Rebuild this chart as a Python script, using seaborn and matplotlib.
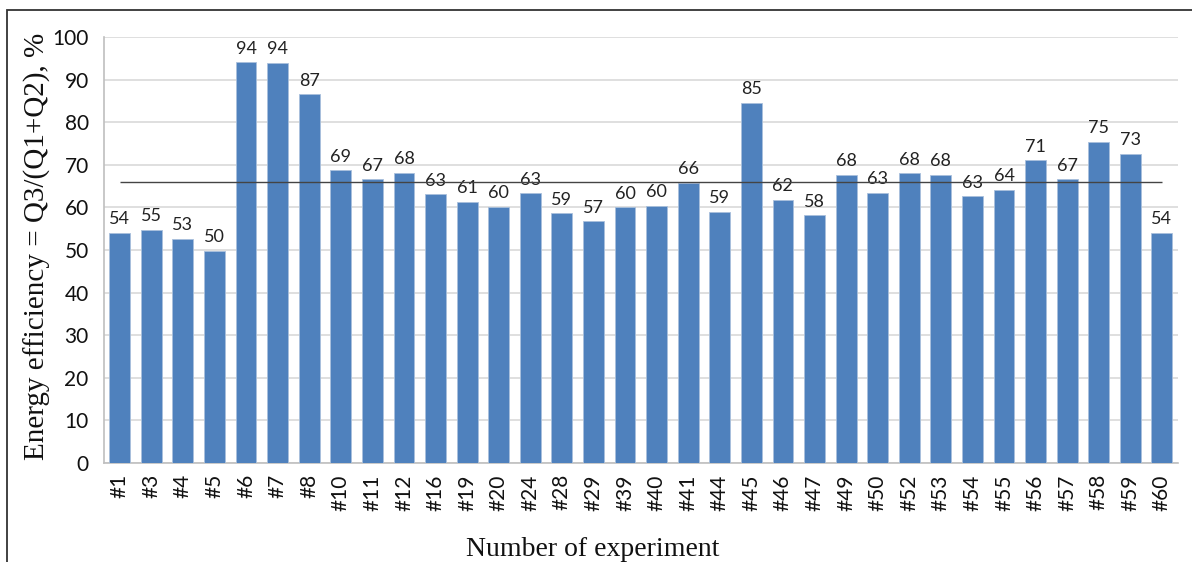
import matplotlib
matplotlib.use('Agg')
import matplotlib.pyplot as plt
import seaborn as sns
import pandas as pd
from matplotlib.patches import Rectangle

# datos
experiments = ['#1', '#3', '#4', '#5', '#6', '#7', '#8', '#10', '#11', '#12', '#16', '#19',
               '#20', '#24', '#28', '#29', '#39', '#40', '#41', '#44', '#45', '#46', '#47',
               '#49', '#50', '#52', '#53', '#54', '#55', '#56', '#57', '#58', '#59', '#60']
efficiency = [54.1, 54.8, 52.7, 49.8, 94.1, 94.0, 86.6, 68.7, 66.6, 68.2, 63.1, 61.3,
              60.2, 63.3, 58.6, 56.8, 60.0, 60.4, 65.8, 59.0, 84.6, 61.8, 58.2,
              67.7, 63.4, 68.0, 67.7, 62.6, 64.2, 71.1, 66.6, 75.4, 72.6, 54.1]
avg_level = 65.9

df = pd.DataFrame({'experiment': experiments, 'efficiency': efficiency})

sns.set_style("white")
plt.rcParams['font.family'] = ['Lato', 'DejaVu Sans']

fig = plt.figure(figsize=(11.92, 5.62), dpi=100)
ax = fig.add_axes([0.0872, 0.176, 0.9008, 0.758])

sns.barplot(data=df, x='experiment', y='efficiency', color='#4F81BD', saturation=1,
            width=0.66, edgecolor='#a9c0dc', linewidth=0.6, ax=ax, zorder=3)

ax.bar_label(ax.containers[0], fmt='%.0f', padding=4, fontsize=13, color='#222222')

# linea del promedio
ax.hlines(avg_level, 0, len(experiments) - 1, color='#444444', linewidth=1.0, zorder=4)

ax.set_ylim(0, 100)
ax.set_xlim(-0.5, len(experiments) - 0.5)
ax.set_yticks(range(0, 101, 10))
ax.yaxis.grid(True, color='#d9d9d9', linewidth=1.2, zorder=0)
ax.set_axisbelow(True)

ax.set_xticks(range(len(experiments)))
ax.set_xticklabels(experiments, rotation=90, fontsize=15, color='#111111')
ax.tick_params(axis='x', length=0, pad=8)
ax.set_xticks([i - 0.5 for i in range(len(experiments) + 1)], minor=True)
ax.tick_params(axis='x', which='minor', length=7, color='#bfbfbf', width=1.2)
ax.tick_params(axis='y', labelsize=15, length=7, color='#bfbfbf', width=1.2,
               labelcolor='#111111', pad=4)

for side in ['top', 'right']:
    ax.spines[side].set_visible(False)
for side in ['left', 'bottom']:
    ax.spines[side].set_color('#bfbfbf')
    ax.spines[side].set_linewidth(1.2)

ax.set_xlabel('')
ax.set_ylabel('')
fig.text(0.031, 0.561, 'Energy efficiency = Q3/(Q1+Q2), %', rotation=90, ha='center', va='center',
         fontsize=21, family=['Liberation Serif', 'DejaVu Serif'], color='#111111')
fig.text(0.497, 0.022, 'Number of experiment', ha='center', va='center',
         fontsize=20, family=['Liberation Serif', 'DejaVu Serif'], color='#111111')

# marco exterior
fig.patches.append(Rectangle((0.006, -0.1), 1.2, 1.082, transform=fig.transFigure,
                             fill=False, edgecolor='#333333', linewidth=1.3))

plt.savefig('out.png', dpi=100)
plt.close()
